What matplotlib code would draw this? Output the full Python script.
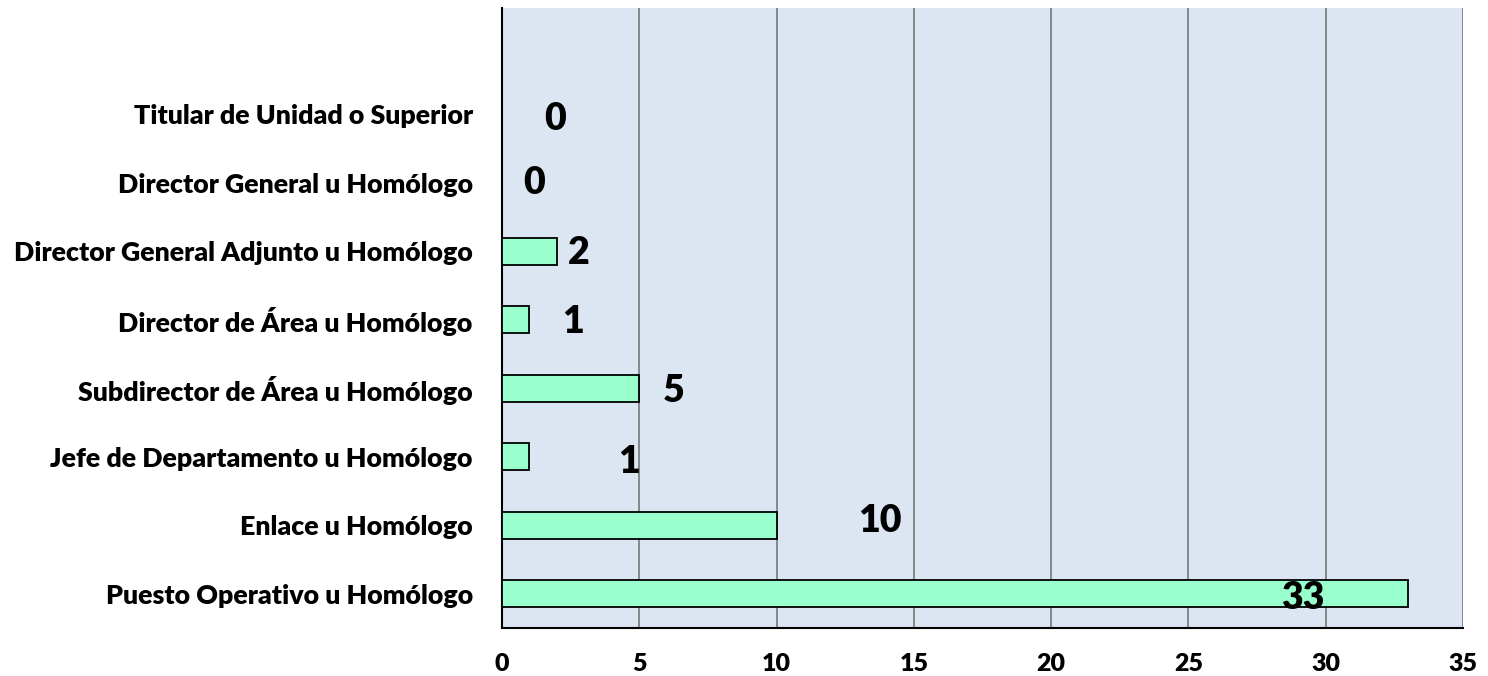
import numpy as np
import matplotlib
matplotlib.use('Agg')
import matplotlib.pyplot as plt

plt.rcParams['font.family'] = ['Lato', 'DejaVu Sans']

categories = ['Puesto Operativo u Homólogo', 'Enlace u Homólogo',
              'Jefe de Departamento u Homólogo', 'Subdirector de Área u Homólogo',
              'Director de Área u Homólogo', 'Director General Adjunto u Homólogo',
              'Director General u Homólogo', 'Titular de Unidad o Superior']
values = [33, 10, 1, 5, 1, 2, 0, 0]
x_ticks = [0, 5, 10, 15, 20, 25, 30, 35]

# where Excel dropped the value labels, pixels from the bar end
label_dx = [-105, 103, 100, 34, 44, 22, 32, 53]
label_dy = [-4, 4, -5, -3, -2, -2, 0, -5]


def draw():
    fig = plt.figure(figsize=(14.88, 6.76), dpi=100)
    ax = fig.add_axes([502 / 1488, 48 / 676, 961 / 1488, 620 / 676])
    ax.set_facecolor('#dce6f2')
    y = np.arange(len(categories))
    ax.barh(y, values, 0.4, color='#99ffcc', edgecolor='black', linewidth=1.3, zorder=3)

    for i, v in enumerate(values):
        ax.annotate(str(v), (v, i), xytext=(label_dx[i], label_dy[i]),
                    textcoords='offset pixels', ha='center', va='center',
                    fontsize=27, fontweight='heavy', zorder=4)

    ax.set_xlim(0, 35)
    ax.set_ylim(-0.5, len(categories) + 0.55)
    ax.set_xticks(x_ticks)
    ax.set_xticklabels([str(t) for t in x_ticks], fontsize=18, fontweight='heavy')
    ax.set_yticks(y)
    ax.set_yticklabels(categories, fontsize=19.3, fontweight='heavy')
    ax.tick_params(axis='both', length=0)
    ax.tick_params(axis='x', pad=18)
    ax.tick_params(axis='y', pad=21)
    ax.xaxis.grid(True, color='#808080', linewidth=1.3, zorder=1)
    ax.set_axisbelow(True)
    ax.spines['top'].set_visible(False)
    ax.spines['right'].set_visible(False)
    ax.spines['left'].set_linewidth(1.5)
    ax.spines['bottom'].set_linewidth(1.5)
    fig.savefig('out.png', dpi=100)


if __name__ == '__main__':
    draw()
